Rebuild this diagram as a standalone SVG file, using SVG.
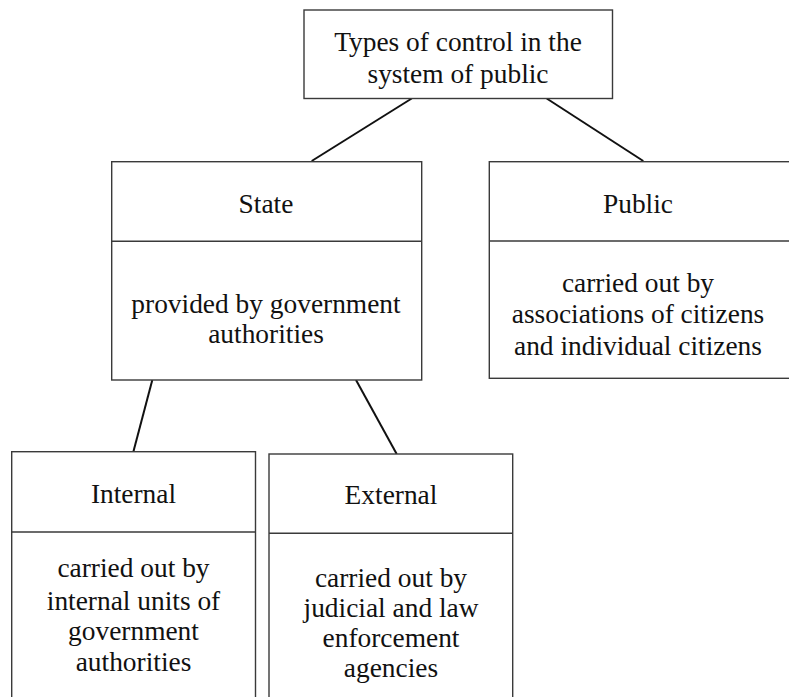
<svg xmlns="http://www.w3.org/2000/svg" width="789" height="697" viewBox="0 0 789 697">
<style>
.box{fill:#fff;stroke:#3a3a3a;stroke-width:1.4}
.div{stroke:#3a3a3a;stroke-width:1.4}
.t{font-family:"Liberation Serif","Times New Roman",serif;font-size:27.4px;fill:#111;text-anchor:middle}
.c{stroke:#111;stroke-width:2;fill:none}
</style>
<rect width="789" height="697" fill="#fff"/>
<g id="connectors">
<line class="c" x1="411.7" y1="98.5" x2="311.7" y2="161"/>
<line class="c" x1="546.7" y1="98.5" x2="643.3" y2="161"/>
<line class="c" x1="152.3" y1="380" x2="133.3" y2="452"/>
<line class="c" x1="356" y1="380" x2="396.7" y2="454"/>
</g>
<g id="root">
<rect class="box" x="304" y="10" width="308.5" height="88.5"/>
<text class="t" x="458" y="50.7">Types of control in the</text>
<text class="t" x="458" y="83.3">system of public</text>
</g>
<g id="state">
<rect class="box" x="111.7" y="161.7" width="310" height="218.3"/>
<line class="div" x1="111.7" y1="241.3" x2="421.7" y2="241.3"/>
<text class="t" x="266" y="213.3">State</text>
<text class="t" x="266" y="313.3">provided by government</text>
<text class="t" x="266" y="343.3">authorities</text>
</g>
<g id="public">
<rect class="box" x="489.3" y="161.7" width="310" height="216.6"/>
<line class="div" x1="489.3" y1="241" x2="799.3" y2="241"/>
<text class="t" x="638" y="212.7">Public</text>
<text class="t" x="638" y="291.7">carried out by</text>
<text class="t" x="638" y="323.3">associations of citizens</text>
<text class="t" x="638" y="355">and individual citizens</text>
</g>
<g id="internal">
<rect class="box" x="11.7" y="451.7" width="243.8" height="260"/>
<line class="div" x1="11.7" y1="532" x2="255.5" y2="532"/>
<text class="t" x="133.5" y="503.3">Internal</text>
<text class="t" x="133.5" y="577">carried out by</text>
<text class="t" x="133.5" y="609.5">internal units of</text>
<text class="t" x="133.5" y="640">government</text>
<text class="t" x="133.5" y="671">authorities</text>
</g>
<g id="external">
<rect class="box" x="269" y="454" width="243.7" height="258"/>
<line class="div" x1="269" y1="533.3" x2="512.7" y2="533.3"/>
<text class="t" x="391" y="504">External</text>
<text class="t" x="391" y="586.7">carried out by</text>
<text class="t" x="391" y="616.7">judicial and law</text>
<text class="t" x="391" y="647">enforcement</text>
<text class="t" x="391" y="676.7">agencies</text>
</g>
</svg>
